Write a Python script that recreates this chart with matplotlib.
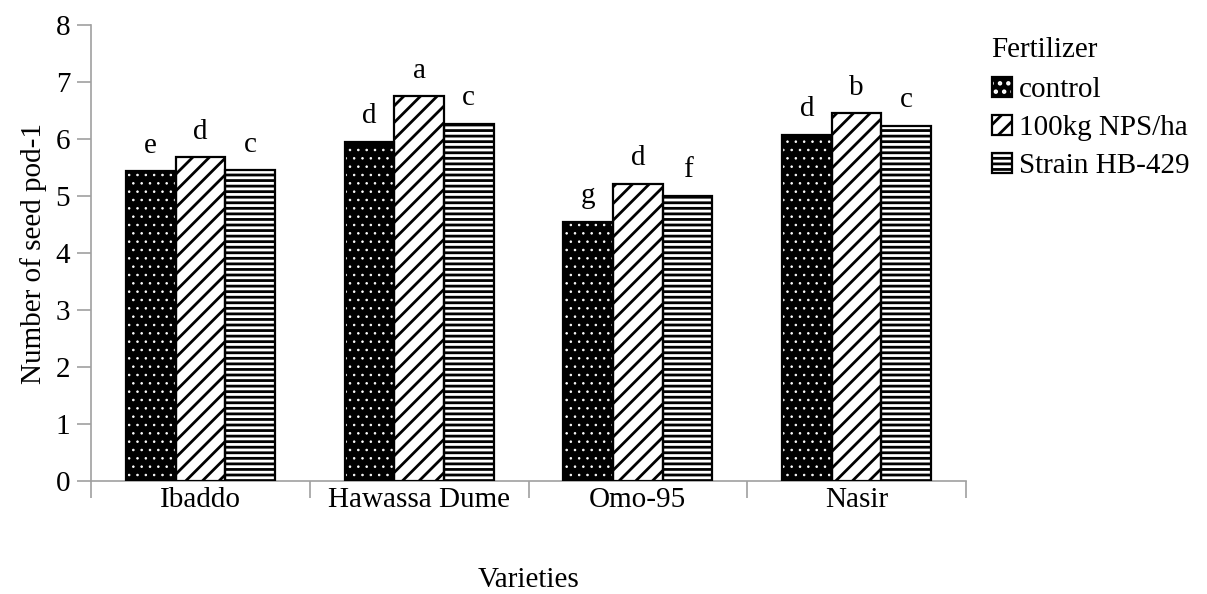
import matplotlib
matplotlib.use("Agg")
import matplotlib.pyplot as plt
import numpy as np
from matplotlib.patches import Patch
from matplotlib.legend_handler import HandlerTuple

varieties = ["Ibaddo", "Hawassa Dume", "Omo-95", "Nasir"]
series_names = ["control", "100kg NPS/ha", "Strain HB-429"]
control = [5.43, 5.95, 4.55, 6.07]
nps = [5.68, 6.75, 5.21, 6.45]
strain = [5.45, 6.27, 5.00, 6.23]
letters_control = ["e", "d", "g", "d"]
letters_nps = ["d", "a", "d", "b"]
letters_strain = ["c", "c", "f", "c"]

plt.rcParams['font.family'] = ['Liberation Serif', 'DejaVu Serif']

fig = plt.figure(figsize=(12.07, 5.94), dpi=100)
ax = fig.add_axes([91/1207, 1-481/594, (966-91)/1207, (481-25)/594])

x = np.arange(len(varieties))
w = 0.227
series = [control, nps, strain]
letters = [letters_control, letters_nps, letters_strain]
styles = [
    dict(face="black", hatch="..", hcolor="white", hlw=0.6),
    dict(face="white", hatch="//", hcolor="black", hlw=2.0),
    dict(face="white", hatch="---", hcolor="black", hlw=2.0),
]
handles = []
for i, (vals, st, lts) in enumerate(zip(series, styles, letters)):
    pos = x + (i - 1) * w
    plt.rcParams['hatch.linewidth'] = st["hlw"]
    ax.bar(pos, vals, w, color=st["face"], edgecolor=st["hcolor"], hatch=st["hatch"], linewidth=0, zorder=2)
    ax.bar(pos, vals, w, fill=False, edgecolor="black", linewidth=1.6, zorder=3)
    for p, v, t in zip(pos, vals, lts):
        ax.text(p, v + 0.22, t, ha="center", va="bottom", fontsize=21)
    h1 = Patch(facecolor=st["face"], edgecolor=st["hcolor"], hatch=st["hatch"], linewidth=0)
    h2 = Patch(fill=False, edgecolor="black", linewidth=1.6)
    handles.append((h1, h2))

ax.set_xlim(-0.5, len(varieties) - 0.5)
ax.set_ylim(0, 8)
ax.set_yticks(range(0, 9))
ax.set_xticks(np.arange(-0.5, len(varieties), 1.0))
ax.set_xticklabels([])
ax.set_xticks(x, minor=True)
ax.set_xticklabels(varieties, minor=True)
ax.tick_params(axis="x", which="minor", length=0, labelsize=21, pad=4)
ax.tick_params(axis="x", which="major", length=12, color="#a0a0a0", width=1.2)
ax.tick_params(axis="y", length=10, color="#a0a0a0", width=1.2, labelsize=21, pad=5)
for s in ["top", "right"]:
    ax.spines[s].set_visible(False)
for s in ["left", "bottom"]:
    ax.spines[s].set_color("#a0a0a0")
    ax.spines[s].set_linewidth(1.2)

ax.set_ylabel("Number of seed pod-1", fontsize=21, labelpad=6)
ax.set_xlabel("Varieties", fontsize=21, labelpad=39)

leg = fig.legend(handles, series_names, handler_map={tuple: HandlerTuple(ndivide=1, pad=0)},
                 title="Fertilizer", loc="upper left", bbox_to_anchor=(980/1207, 1-25/594),
                 frameon=False, fontsize=21, title_fontsize=21,
                 handlelength=0.7, handleheight=0.7, handletextpad=0.25, labelspacing=0.4,
                 borderaxespad=0)
leg._legend_box.align = "left"
leg._legend_box.sep = 10

fig.savefig("out.png", dpi=100)
